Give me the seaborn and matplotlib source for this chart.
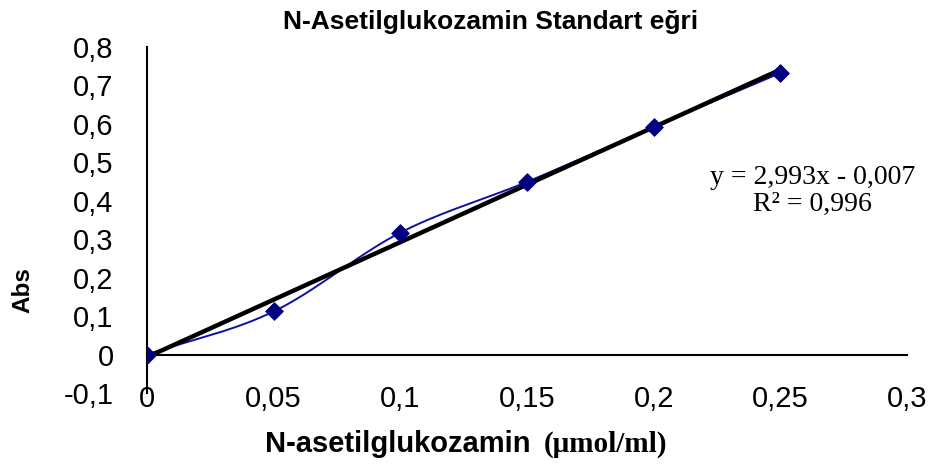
import numpy as np
import pandas as pd
import seaborn as sns
import matplotlib
matplotlib.use("Agg")
import matplotlib.pyplot as plt
from matplotlib.offsetbox import TextArea, HPacker, AnchoredOffsetbox

# Data
conc = [0.0, 0.05, 0.10, 0.15, 0.20, 0.25]
absorb = [0.0, 0.112, 0.317, 0.449, 0.592, 0.732]
xticks = [0, 0.05, 0.1, 0.15, 0.2, 0.25, 0.3]
xticklabels = ["0", "0,05", "0,1", "0,15", "0,2", "0,25", "0,3"]
yticks = [-0.1, 0, 0.1, 0.2, 0.3, 0.4, 0.5, 0.6, 0.7, 0.8]
yticklabels = ["-0,1", "0", "0,1", "0,2", "0,3", "0,4", "0,5", "0,6", "0,7", "0,8"]
title = "N-Asetilglukozamin Standart eğri"
eq_text = "y = 2,993x - 0,007\nR² = 0,996"

sns.set_style("white")
plt.rcParams['font.family'] = ['Liberation Sans', 'DejaVu Sans']
plt.rcParams['text.color'] = 'black'
plt.rcParams['xtick.labelcolor'] = 'black'
plt.rcParams['ytick.labelcolor'] = 'black'

df = pd.DataFrame({"conc": conc, "abs": absorb})

# Excel-style smoothed line (Catmull-Rom through the data points)
def catmull_rom(x, y, n=30):
    x = np.asarray(x, float); y = np.asarray(y, float)
    px = np.concatenate([[2 * x[0] - x[1]], x, [2 * x[-1] - x[-2]]])
    py = np.concatenate([[2 * y[0] - y[1]], y, [2 * y[-1] - y[-2]]])
    xs, ys = [], []
    for i in range(1, len(px) - 2):
        t = np.linspace(0, 1, n, endpoint=False)
        for P, out in ((px, xs), (py, ys)):
            p0, p1, p2, p3 = P[i - 1], P[i], P[i + 1], P[i + 2]
            out.extend(0.5 * ((2 * p1) + (-p0 + p2) * t +
                              (2 * p0 - 5 * p1 + 4 * p2 - p3) * t ** 2 +
                              (-p0 + 3 * p1 - 3 * p2 + p3) * t ** 3))
    xs.append(x[-1]); ys.append(y[-1])
    return pd.DataFrame({"conc": xs, "abs": ys})

smooth = catmull_rom(conc, absorb)

fig = plt.figure(figsize=(9.36, 4.69), dpi=100)
ax = fig.add_axes([0.157, 0.162, 0.812, 0.738])

sns.lineplot(data=smooth, x="conc", y="abs", ax=ax, color="#1010A0",
             linewidth=1.4, sort=False, estimator=None)
sns.regplot(data=df, x="conc", y="abs", ax=ax, scatter=False, ci=None,
            truncate=True, line_kws=dict(color="black", linewidth=3.2))
sns.scatterplot(data=df, x="conc", y="abs", ax=ax, marker="D", s=80,
                color="#000080", edgecolor="#000080", zorder=5)

ax.set_xlim(0, 0.3)
ax.set_ylim(-0.1, 0.8)
ax.set_xticks(xticks)
ax.set_xticklabels(xticklabels)
ax.set_yticks(yticks)
ax.set_yticklabels(yticklabels)

for s in ["top", "right"]:
    ax.spines[s].set_visible(False)
ax.spines["bottom"].set_position(("data", 0))
ax.spines["left"].set_color("black")
ax.spines["bottom"].set_color("black")
ax.spines["left"].set_linewidth(1.5)
ax.spines["bottom"].set_linewidth(1.5)
ax.tick_params(axis="x", direction="out", length=6, width=1.2, color="#888888",
               pad=16, labelsize=21, labelcolor="black")
ax.tick_params(axis="y", direction="out", length=8, width=1.2, color="#888888",
               pad=16, labelsize=21, labelcolor="black")
ax.set_xlabel("")
ax.set_ylabel("")

fig.text(0.524, 0.953, title, ha="center", va="center", fontsize=19,
         fontweight="bold", color="black")
fig.text(0.024, 0.382, "Abs", rotation=90, ha="center", va="center",
         fontsize=17.5, fontweight="bold", color="black")

ax.text(0.868, 0.593, eq_text, transform=fig.transFigure, ha="center",
        va="center", fontsize=20, family="Liberation Serif", linespacing=1.1,
        color="black")

t1 = TextArea("N-asetilglukozamin", textprops=dict(fontsize=21, fontweight="bold",
                                                  family="Liberation Sans",
                                                  color="black"))
t2 = TextArea("(μmol/ml)", textprops=dict(fontsize=21, fontweight="bold",
                                          family="Liberation Serif",
                                          color="black"))
pack = HPacker(children=[t1, t2], align="baseline", pad=0, sep=9)
box = AnchoredOffsetbox(loc="center", child=pack, frameon=False,
                        bbox_to_anchor=(0.498, 0.053),
                        bbox_transform=fig.transFigure, borderpad=0)
fig.add_artist(box)

fig.savefig("out.png", dpi=100)
